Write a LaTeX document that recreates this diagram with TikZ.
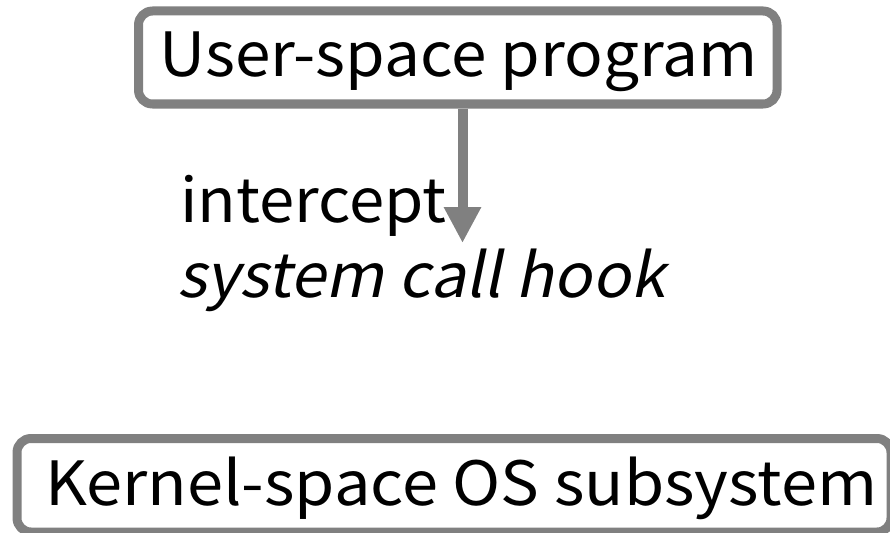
\documentclass[tikz,border=0pt]{standalone}
\usepackage{fontspec}
\setmainfont{Noto Sans CJK JP}
\newfontfamily\oblfont[FakeSlant=0.2]{Noto Sans CJK JP}
\usetikzlibrary{arrows.meta}
\definecolor{boxgray}{HTML}{808080}
\tikzset{
  bigtext/.style={font=\fontsize{61}{70}\selectfont, inner sep=0pt},
  roundbox/.style={draw=boxgray, line width=9pt, rounded corners=14pt, fill=white, inner sep=0pt},
  flowarrow/.style={draw=boxgray, line width=10pt, -{Triangle[width=35pt,length=36pt]}},
}
\begin{document}
\begin{tikzpicture}[x=1pt,y=-1pt]
\useasboundingbox (0,0) rectangle (890,532);
\node[roundbox, minimum width=638.5pt, minimum height=93pt] (ubox) at (457.75,57.5) {};
\node[bigtext, anchor=base west] (utext) at (159,77) {\scalebox{1.048}[1]{User-space program}};
\node[roundbox, minimum width=874pt, minimum height=93.5pt] (kbox) at (454,485.25) {};
\node[bigtext, anchor=base west] (ktext) at (45,505) {\scalebox{1.065}[1]{Kernel-space OS subsystem}};
\coordinate (tip) at (462.5,243);
\draw[flowarrow] (ubox.south -| tip) -- (tip);
\node[bigtext, anchor=base west] (intercept) at (180,222) {\scalebox{1.04}[1]{intercept}};
\node[bigtext, anchor=base west] (hook) at (177,297) {\scalebox{1.036}[1]{\oblfont system call hook}};
\end{tikzpicture}
\end{document}
